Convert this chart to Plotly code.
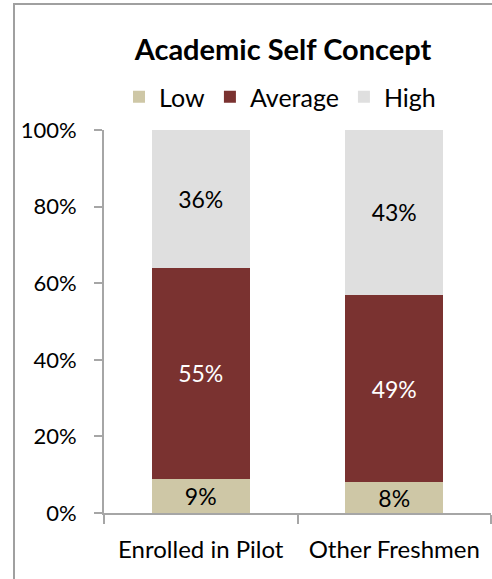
import plotly.graph_objects as go

categories = ["Enrolled in Pilot", "Other Freshmen"]
series_names = ["Low", "Average", "High"]
low_vals = [9, 8]
avg_vals = [55, 49]
high_vals = [36, 43]
y_tick_vals = [0, 20, 40, 60, 80, 100]
y_tick_text = ["0%", "20%", "40%", "60%", "80%", "100%"]

colors = {"Low": "#CEC7A6", "Average": "#7A3230", "High": "#DFDFDF"}
text_colors = {"Low": "black", "Average": "white", "High": "black"}
FONT = "Lato, Carlito, Calibri, sans-serif"

fig = go.Figure()
for name, vals in zip(series_names, [low_vals, avg_vals, high_vals]):
    fig.add_trace(go.Bar(
        name=name, x=categories, y=vals,
        marker=dict(color=colors[name], line=dict(width=0)),
        text=[f"{v}%" for v in vals], textposition="inside",
        insidetextanchor="middle", constraintext="none",
        textfont=dict(color=text_colors[name], size=23, family=FONT),
    ))

W, H = 492, 579
L, R, T, B = 104, 1, 130, 66
pw, ph = W - L - R, H - T - B

def px(x):
    return (x - L) / pw

def py(y):
    return (H - B - y) / ph

fig.update_layout(
    width=W, height=H, barmode="stack", bargap=0.494,
    margin=dict(l=L, r=R, t=T, b=B, pad=0),
    paper_bgcolor="white", plot_bgcolor="white",
    font=dict(family=FONT, size=22, color="black"),
    uniformtext=dict(mode=False),
    title=dict(text="<b>Academic Self Concept</b>", x=283 / W, xanchor="center",
               y=1 - 50 / H, yanchor="middle",
               font=dict(size=29, family=FONT, color="black")),
    legend=dict(orientation="h", x=px(280), xanchor="center", y=py(97), yanchor="middle",
                font=dict(size=25, family=FONT), traceorder="normal",
                itemwidth=30, bgcolor="rgba(0,0,0,0)"),
    xaxis=dict(showline=True, linecolor="#A6A6A6", linewidth=2, ticks="outside",
               tickson="boundaries", ticklen=9, tickcolor="#A6A6A6", tickwidth=2,
               tickfont=dict(size=24, family=FONT), showgrid=False,
               ticklabelstandoff=14),
    yaxis=dict(range=[0, 100], tickvals=y_tick_vals, ticktext=y_tick_text,
               showline=True, linecolor="#A6A6A6", linewidth=2, ticks="outside",
               ticklen=8, tickcolor="#A6A6A6", tickwidth=2, showgrid=False,
               zeroline=False, tickfont=dict(size=22, family=FONT),
               ticklabelstandoff=13),
    showlegend=True,
)

fig.add_shape(type="rect", xref="paper", yref="paper",
              x0=px(14), x1=px(520), y0=py(620), y1=py(4),
              line=dict(color="#A0A0A0", width=2), fillcolor="rgba(0,0,0,0)",
              layer="above")

fig.write_html("out.html", config={"displayModeBar": False},
               post_script="document.body.style.margin='0';document.body.style.overflow='hidden';")
